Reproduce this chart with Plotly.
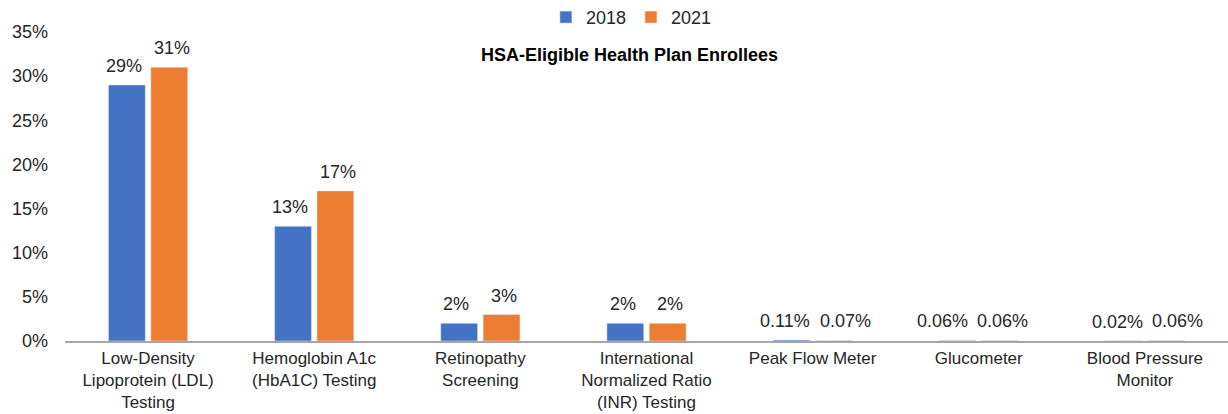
import plotly.graph_objects as go

categories = ["Low-Density<br>Lipoprotein (LDL)<br>Testing", "Hemoglobin A1c<br>(HbA1C) Testing",
              "Retinopathy<br>Screening", "International<br>Normalized Ratio<br>(INR) Testing",
              "Peak Flow Meter", "Glucometer", "Blood Pressure<br>Monitor"]
values_2018 = [29, 13, 2, 2, 0.11, 0.06, 0.02]
values_2021 = [31, 17, 3, 2, 0.07, 0.06, 0.06]
labels_2018 = ["29%", "13%", "2%", "2%", "0.11%", "0.06%", "0.02%"]
labels_2021 = ["31%", "17%", "3%", "2%", "0.07%", "0.06%", "0.06%"]
tick_vals = [0, 5, 10, 15, 20, 25, 30, 35]
tick_text = ["0%", "5%", "10%", "15%", "20%", "25%", "30%", "35%"]

# label nudges (px) so the small labels do not collide, as in the source chart
shift_2018 = [0, 0, 0, 0, -4, -12, -4]
shift_2021 = [0, 0, 0, 0, 9, 0, 9]

font_family = "Liberation Sans, Arial, sans-serif"
FS = 18
TXT = "#262626"
BAR_OFFSET = 0.1437  # half distance between the two bars of a group, in category units

fig = go.Figure()
for name, vals, col in [("2018", values_2018, "#4472C4"), ("2021", values_2021, "#ED7D31")]:
    fig.add_trace(go.Bar(name=name, x=list(range(len(categories))), y=vals, marker_color=col))

annotations = [dict(text="<b>HSA-Eligible Health Plan Enrollees</b>", x=(629.5 - 65) / 1163,
                    xref="paper", xanchor="center",
                    y=(414 - 55 - 73) / (414 - 32 - 73), yref="paper", yanchor="middle",
                    showarrow=False, font=dict(size=FS, color="#000000", family=font_family))]
for vals, labs, shifts, sign in [(values_2018, labels_2018, shift_2018, -1),
                                 (values_2021, labels_2021, shift_2021, 1)]:
    for i, (v, t, s) in enumerate(zip(vals, labs, shifts)):
        annotations.append(dict(text=t, x=i + sign * BAR_OFFSET, y=v, xref="x", yref="y",
                                xanchor="center", yanchor="bottom", yshift=7, xshift=s,
                                showarrow=False, font=dict(size=FS, color=TXT, family=font_family)))

fig.update_layout(
    width=1228, height=414,
    margin=dict(l=65, r=0, t=32, b=73, autoexpand=False),
    paper_bgcolor="white", plot_bgcolor="white",
    barmode="group", bargap=0.49, bargroupgap=0.13,
    font=dict(family=font_family, size=FS, color=TXT),
    legend=dict(orientation="h", x=0.487, xanchor="center", y=0.958, yref="container",
                yanchor="middle", font=dict(size=FS, color=TXT),
                itemwidth=30, traceorder="normal"),
    annotations=annotations,
)
fig.update_xaxes(showline=True, linecolor="#A6A6A6", linewidth=1.5, ticks="", showgrid=False,
                 tickmode="array", tickvals=list(range(len(categories))), ticktext=categories,
                 range=[-0.5, len(categories) - 0.5],
                 tickfont=dict(size=17, color=TXT), ticklabelstandoff=1)
fig.update_yaxes(range=[0, 35], tickvals=tick_vals, ticktext=tick_text, showgrid=False,
                 showline=False, zeroline=False, ticks="", ticklabelstandoff=16,
                 tickfont=dict(size=FS, color=TXT))

fig.write_html("out.html")
